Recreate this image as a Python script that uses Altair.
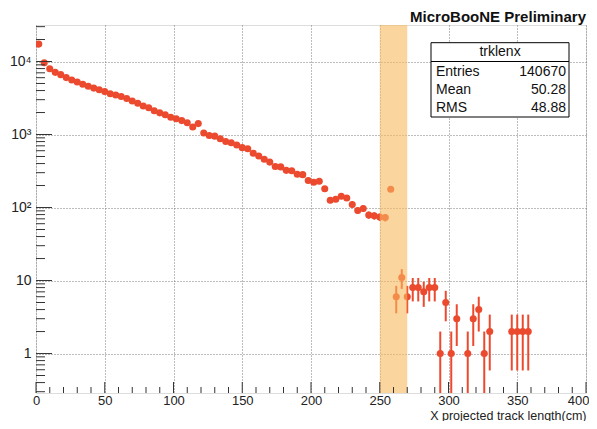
import altair as alt
import pandas as pd
import numpy as np

# ---- data ----
bin_width = 4.0
bin_centers = [2 + 4 * k for k in range(90)]
counts = [17300, 9600, 7970, 7100, 6610, 6020, 5590, 5250, 4890, 4590,
          4320, 4100, 3870, 3610, 3470, 3310, 3110, 2880, 2680, 2460,
          2320, 2110, 1980, 1860, 1720, 1640, 1550, 1450, 1270, 1410,
          1050, 969, 950, 875, 804, 772, 717, 661, 637, 553,
          509, 459, 419, 364, 360, 323, 319, 285, 282, 234,
          222, 229, 181, 126, 130, 143, 135, 110, 91, 97,
          79, 77, 74, 73, 178, 6, 11, 6, 8, 8,
          7, 8, 8, 1, 5, 1, 3, 0, 1, 3,
          4, 1, 2, 0, 0, 0, 2, 2, 2, 2]
band_range = [250, 270]
x_label_values = [0, 50, 100, 150, 200, 250, 300, 350, 400]
y_label_values = [1, 10, 100, 1000, 10000]
stat_names = ["Entries", "Mean", "RMS"]
stat_values = ["140670", "50.28", "48.88"]
hist_name = "trklenx"

XMIN, XMAX = 0, 400
YMIN, YMAX = 0.288, 31623
W, H = 550, 368
RED = "#ec4a2f"
FONT = "Liberation Sans"

rows = []
for c, n in zip(bin_centers, counts):
    if n <= 0:
        continue
    e = np.sqrt(n)
    rows.append({"x": c, "n": n, "lo": max(n - e, YMIN), "hi": n + e,
                 "xl": c - bin_width / 2, "xh": c + bin_width / 2})
df = pd.DataFrame(rows)

xs = alt.Scale(domain=[XMIN, XMAX], nice=False, zero=False)
ys = alt.Scale(type="log", domain=[YMIN, YMAX], nice=False)

grid_dash = [1, 2]
xaxis = alt.Axis(values=x_label_values, ticks=False, domain=False, grid=True,
                 gridDash=grid_dash, gridColor="#7a7a7a", gridWidth=1,
                 labelFont=FONT, labelFontSize=13, labelColor="#222",
                 labelPadding=1, labelFlush=False,
                 labelAlign={"condition": {"test": "datum.value == 400", "value": "right"},
                             "value": "center"},
                 labelOffset={"condition": {"test": "datum.value == 400", "value": 3},
                              "value": 0},
                 title="X projected track length(cm)", titleFont=FONT,
                 titleFontSize=12.5, titleFontWeight="normal", titleColor="#222",
                 titleAnchor="end", titleBaseline="alphabetic", titleY=26)
yaxis = alt.Axis(values=y_label_values, ticks=False, domain=False, grid=True,
                 gridDash=grid_dash, gridColor="#7a7a7a", gridWidth=1,
                 labelFont=FONT, labelFontSize=14, labelColor="#222",
                 labelPadding=5, title=None,
                 labelExpr="datum.value == 1 ? '1' : datum.value == 10 ? '10' : datum.value == 100 ? '10²' : datum.value == 1000 ? '10³' : '10⁴'")

base = alt.Chart(df)

points_grid = base.mark_circle(size=0, opacity=0).encode(
    x=alt.X("x:Q", scale=xs, axis=xaxis),
    y=alt.Y("n:Q", scale=ys, axis=yaxis),
)

verr = base.mark_rule(color=RED, strokeWidth=2, clip=True).encode(
    x="x:Q", y="lo:Q", y2="hi:Q")
herr = base.mark_rule(color=RED, strokeWidth=2, clip=True).encode(
    x="xl:Q", x2="xh:Q", y="n:Q")
pts = base.mark_circle(color=RED, size=50, opacity=1, clip=True).encode(
    x="x:Q", y="n:Q")

band = alt.Chart(pd.DataFrame({"a": [band_range[0]], "b": [band_range[1]]})).mark_rect(
    color="#f9b95e", opacity=0.6).encode(
    x="a:Q", x2="b:Q", y=alt.value(0), y2=alt.value(H))

# inward ticks
ymajor = pd.DataFrame({"v": y_label_values})
yminor_vals = [d * 10.0 ** e for e in range(-1, 5) for d in range(2, 10)
               if YMIN <= d * 10.0 ** e <= YMAX]
yminor = pd.DataFrame({"v": yminor_vals})
xmajor = pd.DataFrame({"v": x_label_values})
xminor = pd.DataFrame({"v": [v for v in range(10, 400, 10) if v % 50 != 0]})

ytick_major = alt.Chart(ymajor).mark_rule(color="#333", strokeWidth=1).encode(
    y="v:Q", x=alt.value(0), x2=alt.value(16))
ytick_minor = alt.Chart(yminor).mark_rule(color="#333", strokeWidth=1).encode(
    y="v:Q", x=alt.value(0), x2=alt.value(9))
xtick_major = alt.Chart(xmajor).mark_rule(color="#333", strokeWidth=1).encode(
    x="v:Q", y=alt.value(H), y2=alt.value(H - 11))
xtick_minor = alt.Chart(xminor).mark_rule(color="#333", strokeWidth=1).encode(
    x="v:Q", y=alt.value(H), y2=alt.value(H - 6))

# stats box
dummy = pd.DataFrame({"a": [0]})
box = alt.Chart(dummy).mark_rect(fill="white", stroke="black", strokeWidth=1).encode(
    x=alt.value(395), x2=alt.value(533), y=alt.value(17.7), y2=alt.value(92))
sep = alt.Chart(dummy).mark_rule(color="black", strokeWidth=1).encode(
    x=alt.value(395), x2=alt.value(533), y=alt.value(36.5))
stat_layers = [alt.Chart(dummy).mark_text(text=hist_name, font=FONT, fontSize=14,
                                          align="center", baseline="middle", color="#111").encode(
    x=alt.value(464), y=alt.value(27))]
row_y = [46.7, 64.5, 82.7]
for name, val, yy in zip(stat_names, stat_values, row_y):
    stat_layers.append(alt.Chart(dummy).mark_text(text=name, font=FONT, fontSize=14,
                                                  align="left", baseline="middle", color="#111").encode(
        x=alt.value(400), y=alt.value(yy)))
    stat_layers.append(alt.Chart(dummy).mark_text(text=val, font=FONT, fontSize=14,
                                                  align="right", baseline="middle", color="#111").encode(
        x=alt.value(530), y=alt.value(yy)))

title = alt.Chart(dummy).mark_text(text="MicroBooNE Preliminary", font=FONT, fontSize=15,
                                   fontWeight="bold", align="right", baseline="alphabetic",
                                   color="#111").encode(
    x=alt.value(W), y=alt.value(-3))

chart = alt.layer(points_grid, verr, herr, pts, band,
                  ytick_major, ytick_minor, xtick_major, xtick_minor,
                  box, sep, *stat_layers, title).properties(
    width=W, height=H,
    padding={"left": 28, "top": 17, "right": 3, "bottom": 28},
    autosize=alt.AutoSizeParams(type="none"),
).configure_view(stroke="#222", strokeWidth=1).configure(background="white")

chart.save("out.html", embed_options={"renderer": "svg", "actions": False})
